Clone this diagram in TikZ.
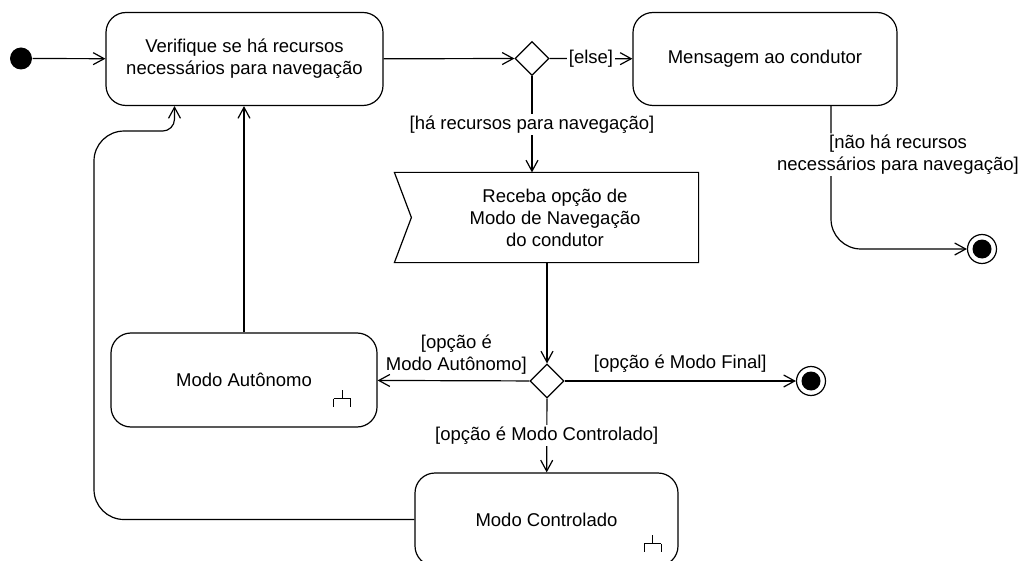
\documentclass[tikz,border=0pt]{standalone}
\usepackage{fontspec}
\setmainfont{Liberation Sans}
\usetikzlibrary{shapes.geometric, arrows.meta, calc}

% small fork sign for activities that call a sub-activity
\tikzset{
  rake/.pic={
    \draw (-8.5,0) -- (8.5,0);
    \draw (0,0) -- (0,-9);
    \draw (-8.5,0) -- (-8.5,8);
    \draw (8.5,0) -- (8.5,8);
  }
}

\begin{document}
\begin{tikzpicture}[x=1pt, y=-1pt, line width=1.2pt,
    >={Straight Barb[length=11pt, width=12pt]},
    every node/.style={font=\fontsize{18.5}{22}\selectfont},
    activity/.style={draw, rectangle, rounded corners=20pt, align=center, inner sep=0pt},
    decision/.style={draw, diamond, minimum width=34pt, minimum height=34pt, inner sep=0pt},
    startdot/.style={circle, fill, minimum size=22pt, inner sep=0pt},
    enddot/.style={circle, draw, minimum size=29pt, inner sep=0pt,
      path picture={\fill (path picture bounding box.center) circle (9.5pt);}},
    guard/.style={fill=white, inner sep=1.5pt, align=center}]

    \useasboundingbox (0,0) rectangle (1024,561);

    % Activities
    \node[activity, minimum width=277pt, minimum height=93pt] (verif) at (244.5,59) {Verifique se há recursos\\necessários para navegação};
    \node[activity, minimum width=264pt, minimum height=93pt] (msg) at (765,59) {Mensagem ao condutor};
    \node[activity, minimum width=266pt, minimum height=94pt] (auto) at (244,380) {Modo Autônomo};
    \node[activity, minimum width=263pt, minimum height=93pt] (ctrl) at (546.5,519.5) {Modo Controlado};

    % Receive signal action, notch on the left
    \node[minimum width=286pt, minimum height=89pt, align=center, inner sep=0pt] (recv) at (555,217.5) {Receba opção de\\Modo de Navegação\\do condutor};
    \draw ($(recv.north west)+(-17,0)$) -- (recv.north east) -- (recv.south east)
      -- ($(recv.south west)+(-17,0)$) -- (recv.west) -- cycle;

    % Decisions, start and ends
    \node[decision] (d1) at (532,58.5) {};
    \node[decision] (d2) at (547,381) {};
    \node[startdot] (start) at (21,58.5) {};
    \node[enddot] (end1) at (982,249) {};
    \node[enddot] (end2) at (811,381) {};

    % Flows
    \draw[->] (start) -- (verif);
    \draw[->] (verif) -- (d1);
    \draw[->] (d1) -- node[guard] {[else]} (msg);
    \draw[->] (d1) -- node[guard] {[há recursos para navegação]} (d1 |- recv.north);
    \draw[->, rounded corners=30pt] ($(msg.south)+(66,0)$) |- node[pos=0.17, xshift=67pt, guard] {[não há recursos\\necessários para navegação]} (end1);
    \draw[->] (recv.south -| d2) -- (d2);
    \draw[->] (d2) -- node[pos=0, anchor=south east, inner sep=2pt, yshift=4pt, align=center] {[opção é\\Modo Autônomo]} (auto);
    \draw[->] (d2) -- node[above, inner sep=2pt, yshift=6pt] {[opção é Modo Final]} (end2);
    \draw[->] (d2) -- node[guard] {[opção é Modo Controlado]} (ctrl);
    \draw[->] (auto) -- (auto |- verif.south);
    \draw[->] (ctrl.west) [rounded corners=30pt] -- (94,519.5) -- (94,131)
      [rounded corners=12pt] -- ($(verif.south)+(-70,25)$) -- ($(verif.south)+(-70,0)$);

    % Sub-activity signs
    \pic at ($(auto.south east)+(-35.5,-29)$) {rake};
    \pic at ($(ctrl.south east)+(-26,-23)$) {rake};

\end{tikzpicture}
\end{document}
